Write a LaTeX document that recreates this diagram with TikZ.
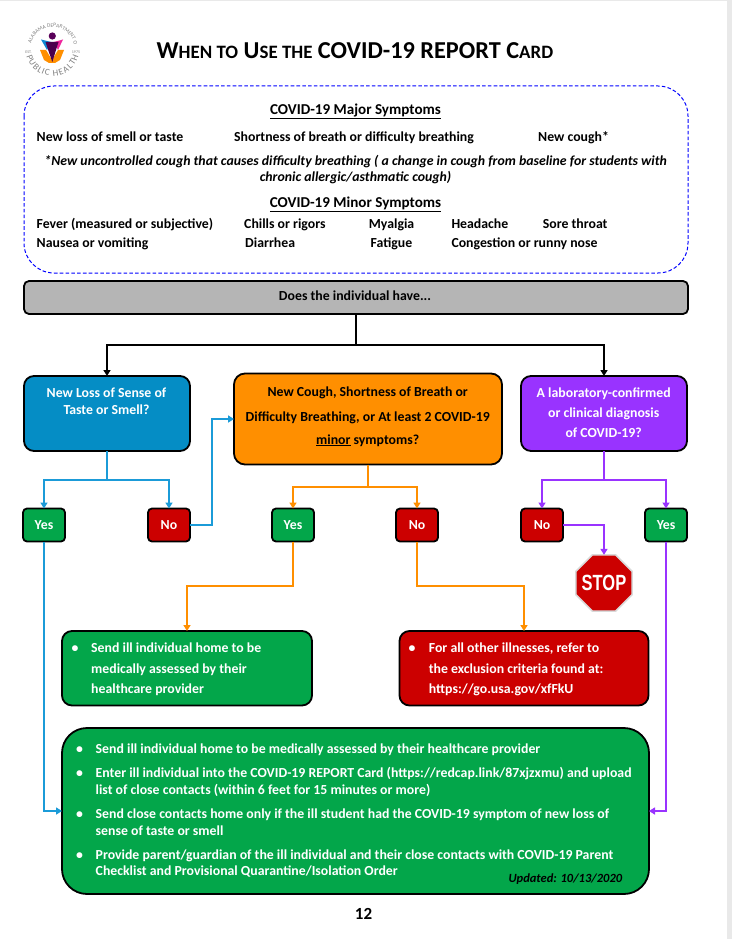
\documentclass[tikz,border=0pt]{standalone}
\usepackage{fontspec}
\setmainfont{Carlito}
\newfontfamily\stopfont{Liberation Sans}
\usetikzlibrary{arrows.meta,decorations.text,calc,shapes.geometric}
\definecolor{cblue}{HTML}{058DC5}
\definecolor{lblue}{HTML}{1B9BD8}
\definecolor{corange}{HTML}{FF8F00}
\definecolor{cpurple}{HTML}{9933FF}
\definecolor{cgreen}{HTML}{03A64A}
\definecolor{cred}{HTML}{CC0000}
\definecolor{cgrey}{HTML}{B5B5B5}
\definecolor{pagegrey}{HTML}{E9E9E9}
\tikzset{
  box/.style={draw=black,line width=1.8pt,inner sep=0pt,outer sep=0pt,anchor=north west},
  txt/.style={inner sep=0pt,font=\fontsize{13.8}{15}\bfseries\selectfont,anchor=base west},
  ctxt/.style={txt,anchor=base},
  wtxt/.style={txt,text=white},
  wctxt/.style={ctxt,text=white},
  itxt/.style={ctxt,font=\fontsize{13.8}{15}\bfseries\itshape\selectfont},
  link/.style={line width=2pt,-{Triangle[length=6pt,width=7pt]}},
  seg/.style={line width=2pt},
  chip/.style={box,rounded corners=4pt,minimum width=42pt,minimum height=33pt},
}
\begin{document}
\begin{tikzpicture}[x=1pt,y=-1pt]
\useasboundingbox (0,0) rectangle (732,939);
\fill[pagegrey] (0,0) rectangle (732,939);
\fill[white] (0,1) rectangle (727,939);

% logo
\coordinate (logoc) at (52.5,49);
\path[decorate,decoration={text along path,text align={fit to path},text={|\fontsize{5.4}{6}\selectfont\color{gray}|ALABAMA DEPARTMENT OF}}]
  ($(logoc)+(195:22)$) arc[start angle=195,end angle=345,radius=22];
\path[decorate,decoration={text along path,text align={fit to path},text={|\fontsize{9}{10}\selectfont\color{gray}|PUBLIC HEALTH}}]
  ($(logoc)+(165:27)$) arc[start angle=165,end angle=15,radius=27];
\node[inner sep=0pt,font=\fontsize{4}{5}\selectfont,text=gray] (est) at (28.5,52) {EST.};
\node[inner sep=0pt,font=\fontsize{4}{5}\selectfont,text=gray] (yr) at (76,52) {1975};
\fill[corange] (40,50) -- (46,50) -- (52,60) -- (58,50) -- (64,50) -- (60,60) -- (55,63) -- (49,63) -- (44,60) -- cycle;
\fill[cyan!70!blue] (41,39.5) -- (51,42) -- (47,50) -- cycle;
\fill[magenta!85!white] (63,39.5) -- (54,42) -- (58,50) -- cycle;
\fill[violet!60!black] (45.5,42) -- (58.5,42) -- (52.3,62) -- cycle;
\fill[violet!70!black] (52.3,36) circle (3.6);

% title
\node[txt,font=\bfseries\fontsize{24.3}{26}\selectfont] (title) at (156.5,59)
 {W{\fontsize{18.9}{20}\selectfont HEN TO} U{\fontsize{18.9}{20}\selectfont SE THE} COVID-19 REPORT C{\fontsize{18.9}{20}\selectfont ARD}};

% symptoms panel
\draw[draw=blue,line width=1pt,dash pattern=on 3.6pt off 2.2pt,rounded corners=30pt]
  (24,86) rectangle (688,273);
\node[ctxt,font=\bfseries\fontsize{15.1}{16}\selectfont] (majh) at (355.5,114) {\underline{COVID-19 Major Symptoms}};
\node[txt] (m1) at (36.5,141) {New loss of smell or taste};
\node[txt] (m2) at (234,141) {Shortness of breath or difficulty breathing};
\node[txt] (m3) at (538,141) {New cough*};
\node[itxt] (n1) at (355.7,165) {*New uncontrolled cough that causes difficulty breathing ( a change in cough from baseline for students with};
\node[itxt] (n2) at (355.5,181.7) {chronic allergic/asthmatic cough)};
\node[ctxt,font=\bfseries\fontsize{15.1}{16}\selectfont] (minh) at (355.5,207) {\underline{COVID-19 Minor Symptoms}};
\node[txt] (a1) at (36.5,228) {Fever (measured or subjective)};
\node[txt] (a2) at (244,228) {Chills or rigors};
\node[txt] (a3) at (368.7,228) {Myalgia};
\node[txt] (a4) at (451.3,228) {Headache};
\node[txt] (a5) at (542.7,228) {Sore throat};
\node[txt] (b1) at (36.5,247) {Nausea or vomiting};
\node[txt] (b2) at (245,247) {Diarrhea};
\node[txt] (b3) at (370.5,247) {Fatigue};
\node[txt] (b4) at (451.3,247) {Congestion or runny nose};

% question boxes
\node[box,fill=cgrey,rounded corners=5pt,minimum width=664pt,minimum height=33pt] (ask) at (24,281) {};
\node[ctxt] (askt) at (355,300) {Does the individual have...};
\node[box,fill=cblue,rounded corners=10pt,minimum width=166pt,minimum height=75pt] (qblue) at (24,376) {};
\node[wctxt] (qb1) at (106.5,397.7) {New Loss of Sense of};
\node[wctxt] (qb2) at (106.5,414.7) {Taste or Smell?};
\node[box,fill=corange,rounded corners=11pt,minimum width=268pt,minimum height=91pt] (qorange) at (234,373.5) {};
\node[ctxt] (qo1) at (367.7,396.7) {New Cough, Shortness of Breath or};
\node[ctxt] (qo2) at (367.7,421) {Difficulty Breathing, or At least 2 COVID-19};
\node[ctxt] (qo3) at (367.7,444) {\underline{minor} symptoms?};
\node[box,fill=cpurple,rounded corners=10pt,minimum width=166pt,minimum height=75pt] (qpurple) at (521,376) {};
\node[wctxt] (qp1) at (603.7,397.7) {A laboratory-confirmed};
\node[wctxt] (qp2) at (603.7,417.7) {or clinical diagnosis};
\node[wctxt] (qp3) at (603.7,437.3) {of COVID-19?};

% yes/no chips
\node[chip,fill=cgreen] (yes1) at (23,508.5) {};
\node[chip,fill=cred] (no1) at (148,508.5) {};
\node[chip,fill=cgreen] (yes2) at (272,508.5) {};
\node[chip,fill=cred] (no2) at (396,508.5) {};
\node[chip,fill=cred] (no3) at (521,508.5) {};
\node[chip,fill=cgreen] (yes3) at (645,508.5) {};
\node[wctxt,yshift=-4pt] (ty1) at (yes1.center) {Yes};
\node[wctxt,yshift=-4pt] (tn1) at (no1.center) {No};
\node[wctxt,yshift=-4pt] (ty2) at (yes2.center) {Yes};
\node[wctxt,yshift=-4pt] (tn2) at (no2.center) {No};
\node[wctxt,yshift=-4pt] (tn3) at (no3.center) {No};
\node[wctxt,yshift=-4pt] (ty3) at (yes3.center) {Yes};

% outcome boxes
\node[box,fill=cgreen,rounded corners=10pt,minimum width=250pt,minimum height=74.5pt] (home) at (62,631) {};
\node[wtxt] (hb) at (71.5,652.7) {\textbullet};
\node[wtxt] (h1) at (91,652.7) {Send ill individual home to be};
\node[wtxt] (h2) at (91,673.7) {medically assessed by their};
\node[wtxt] (h3) at (91,693.7) {healthcare provider};
\node[box,fill=cred,rounded corners=10pt,minimum width=249pt,minimum height=74.5pt] (other) at (399.5,631) {};
\node[wtxt] (ob) at (408.5,652.7) {\textbullet};
\node[wtxt] (o1) at (428.7,652.7) {For all other illnesses, refer to};
\node[wtxt] (o2) at (428.7,673.7) {the exclusion criteria found at:};
\node[wtxt] (o3) at (428.7,693.7) {https://go.usa.gov/xfFkU};
\node[box,fill=cgreen,rounded corners=25pt,minimum width=587pt,minimum height=166pt] (main) at (62,728) {};
\node[wtxt] (mb1) at (76,753.3) {\textbullet};
\node[wtxt] (mb2) at (76,777.7) {\textbullet};
\node[wtxt] (mb3) at (76,818.7) {\textbullet};
\node[wtxt] (mb4) at (76,859.7) {\textbullet};
\node[wtxt] (l1) at (95.5,753.3) {Send ill individual home to be medically assessed by their healthcare provider};
\node[wtxt] (l2) at (95.5,777.7) {Enter ill individual into the COVID-19 REPORT Card (https://redcap.link/87xjzxmu) and upload};
\node[wtxt] (l3) at (95.5,794.7) {list of close contacts (within 6 feet for 15 minutes or more)};
\node[wtxt] (l4) at (95.5,818.7) {Send close contacts home only if the ill student had the COVID-19 symptom of new loss of};
\node[wtxt] (l5) at (95.5,835.7) {sense of taste or smell};
\node[wtxt] (l6) at (95.5,859.7) {Provide parent/guardian of the ill individual and their close contacts with COVID-19 Parent};
\node[wtxt] (l7) at (95.5,875.7) {Checklist and Provisional Quarantine/Isolation Order};
\node[txt,font=\fontsize{12.5}{13}\bfseries\itshape\selectfont] (upd) at (508.3,882.7) {Updated: 10/13/2020};
\node[ctxt,font=\fontsize{17}{18}\bfseries\selectfont] (pg) at (363.5,919) {12};

% stop sign
\node[regular polygon,regular polygon sides=8,minimum size=61pt,inner sep=0pt,outer sep=0pt,fill=cred,draw=gray!30,line width=1.6pt] (stop) at (604,583) {};
\node[font=\fontsize{22}{24}\bfseries\stopfont\selectfont,text=white,inner sep=0pt,xscale=.75,transform shape] (stopt) at (stop.center) {STOP};

% connectors
\coordinate (jk) at (356,345);
\draw[seg] (ask.south) -- (jk);
\draw[link] (jk) -| (qblue.north);
\draw[link] (jk) -| (qpurple.north);

\coordinate (jb) at (107,480);
\draw[seg,lblue] (qblue.south) -- (jb);
\draw[link,lblue] (jb) -| (yes1.north);
\draw[link,lblue] (jb) -| (no1.north);
\coordinate (c1) at (212,419);
\draw[link,lblue] (no1.east) -| (c1) -- (qorange.west);
\draw[link,lblue] (yes1.south) |- (main.west);

\coordinate (jo) at (368,487);
\draw[seg,corange] (qorange.south) -- (jo);
\draw[link,corange] (jo) -| (yes2.north);
\draw[link,corange] (jo) -| (no2.north);
\coordinate (c2) at (187,586);
\draw[link,corange] (yes2.south) |- (c2) -- (home.north);
\coordinate (c3) at (524,586);
\draw[link,corange] (no2.south) |- (c3) -- (other.north);

\coordinate (jp) at (604,480);
\draw[seg,cpurple] (qpurple.south) -- (jp);
\draw[link,cpurple] (jp) -| (no3.north);
\draw[link,cpurple] (jp) -| (yes3.north);
\draw[link,cpurple] (no3.east) -| (stop.north);
\draw[link,cpurple] (yes3.south) |- (main.east);
\end{tikzpicture}
\end{document}
